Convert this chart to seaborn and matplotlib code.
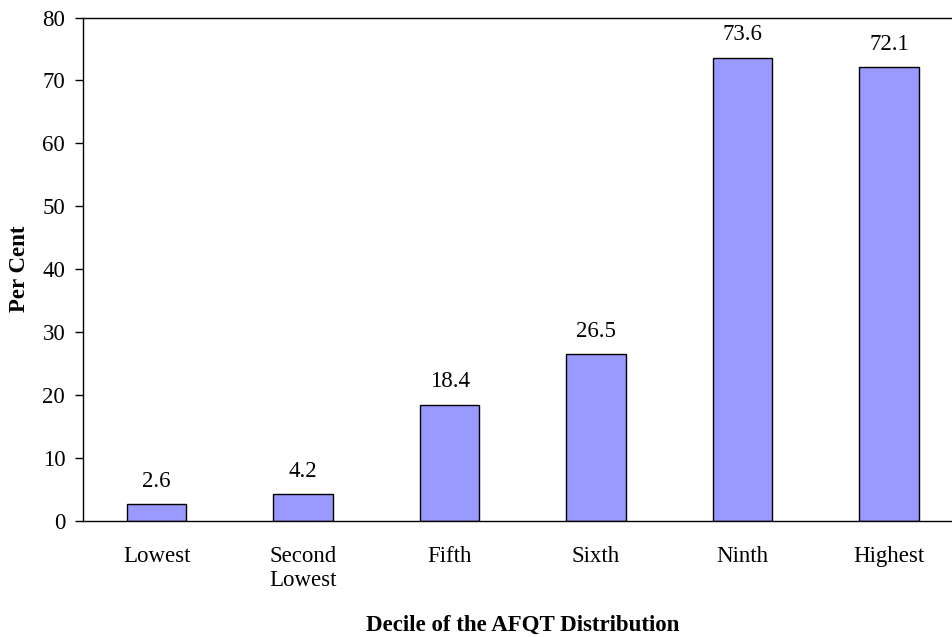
import matplotlib
matplotlib.use("Agg")
import matplotlib.pyplot as plt
import seaborn as sns
import numpy as np

# Share by AFQT decile
deciles = ["Lowest", "Second\nLowest", "Fifth", "Sixth", "Ninth", "Highest"]
per_cent = [2.6, 4.2, 18.4, 26.5, 73.6, 72.1]
y_ticks = [0, 10, 20, 30, 40, 50, 60, 70, 80]

BAR_COLOR = "#9999FF"
FS = 16.5


def main():
    sns.set_style("white")
    plt.rcParams["font.family"] = ["Liberation Serif", "DejaVu Serif"]
    plt.rcParams["text.color"] = "black"
    plt.rcParams["axes.labelcolor"] = "black"
    plt.rcParams["xtick.color"] = "black"
    plt.rcParams["ytick.color"] = "black"

    fig = plt.figure(figsize=(9.53, 6.37), dpi=100)
    # plot area runs slightly past the right edge, as in the original
    ax = fig.add_axes([83.3 / 953, 116.3 / 637, 879 / 953, 503.2 / 637])

    sns.barplot(x=deciles, y=per_cent, color=BAR_COLOR, saturation=1,
                edgecolor="black", linewidth=1.0, width=0.405, ax=ax)

    for container in ax.containers:
        ax.bar_label(container, fmt="%.1f", padding=9, fontsize=FS)

    ax.set_xlim(-0.5, len(deciles) - 0.5)
    ax.set_ylim(0, 80)
    ax.set_yticks(y_ticks)

    # category separators as x ticks
    ax.set_xticks(np.arange(len(deciles) + 1) - 0.5, minor=True)
    ax.tick_params(axis="x", which="major", length=0, pad=18, labelsize=FS)
    ax.tick_params(axis="x", which="minor", length=6, width=1, color="black",
                   direction="out")
    ax.tick_params(axis="y", length=6, width=1, color="black", direction="out",
                   pad=7, labelsize=FS)
    ax.tick_params(bottom=True, left=True)

    for side in ["left", "bottom", "top"]:
        ax.spines[side].set_color("black")
        ax.spines[side].set_linewidth(1.0)
    ax.spines["right"].set_visible(False)

    ax.set_xlabel("Decile of the AFQT Distribution", fontsize=FS,
                  fontweight="bold", labelpad=17)
    ax.set_ylabel("Per Cent", fontsize=FS, fontweight="bold", labelpad=9)

    fig.savefig("out.png", dpi=100)
    plt.close(fig)


if __name__ == "__main__":
    main()
